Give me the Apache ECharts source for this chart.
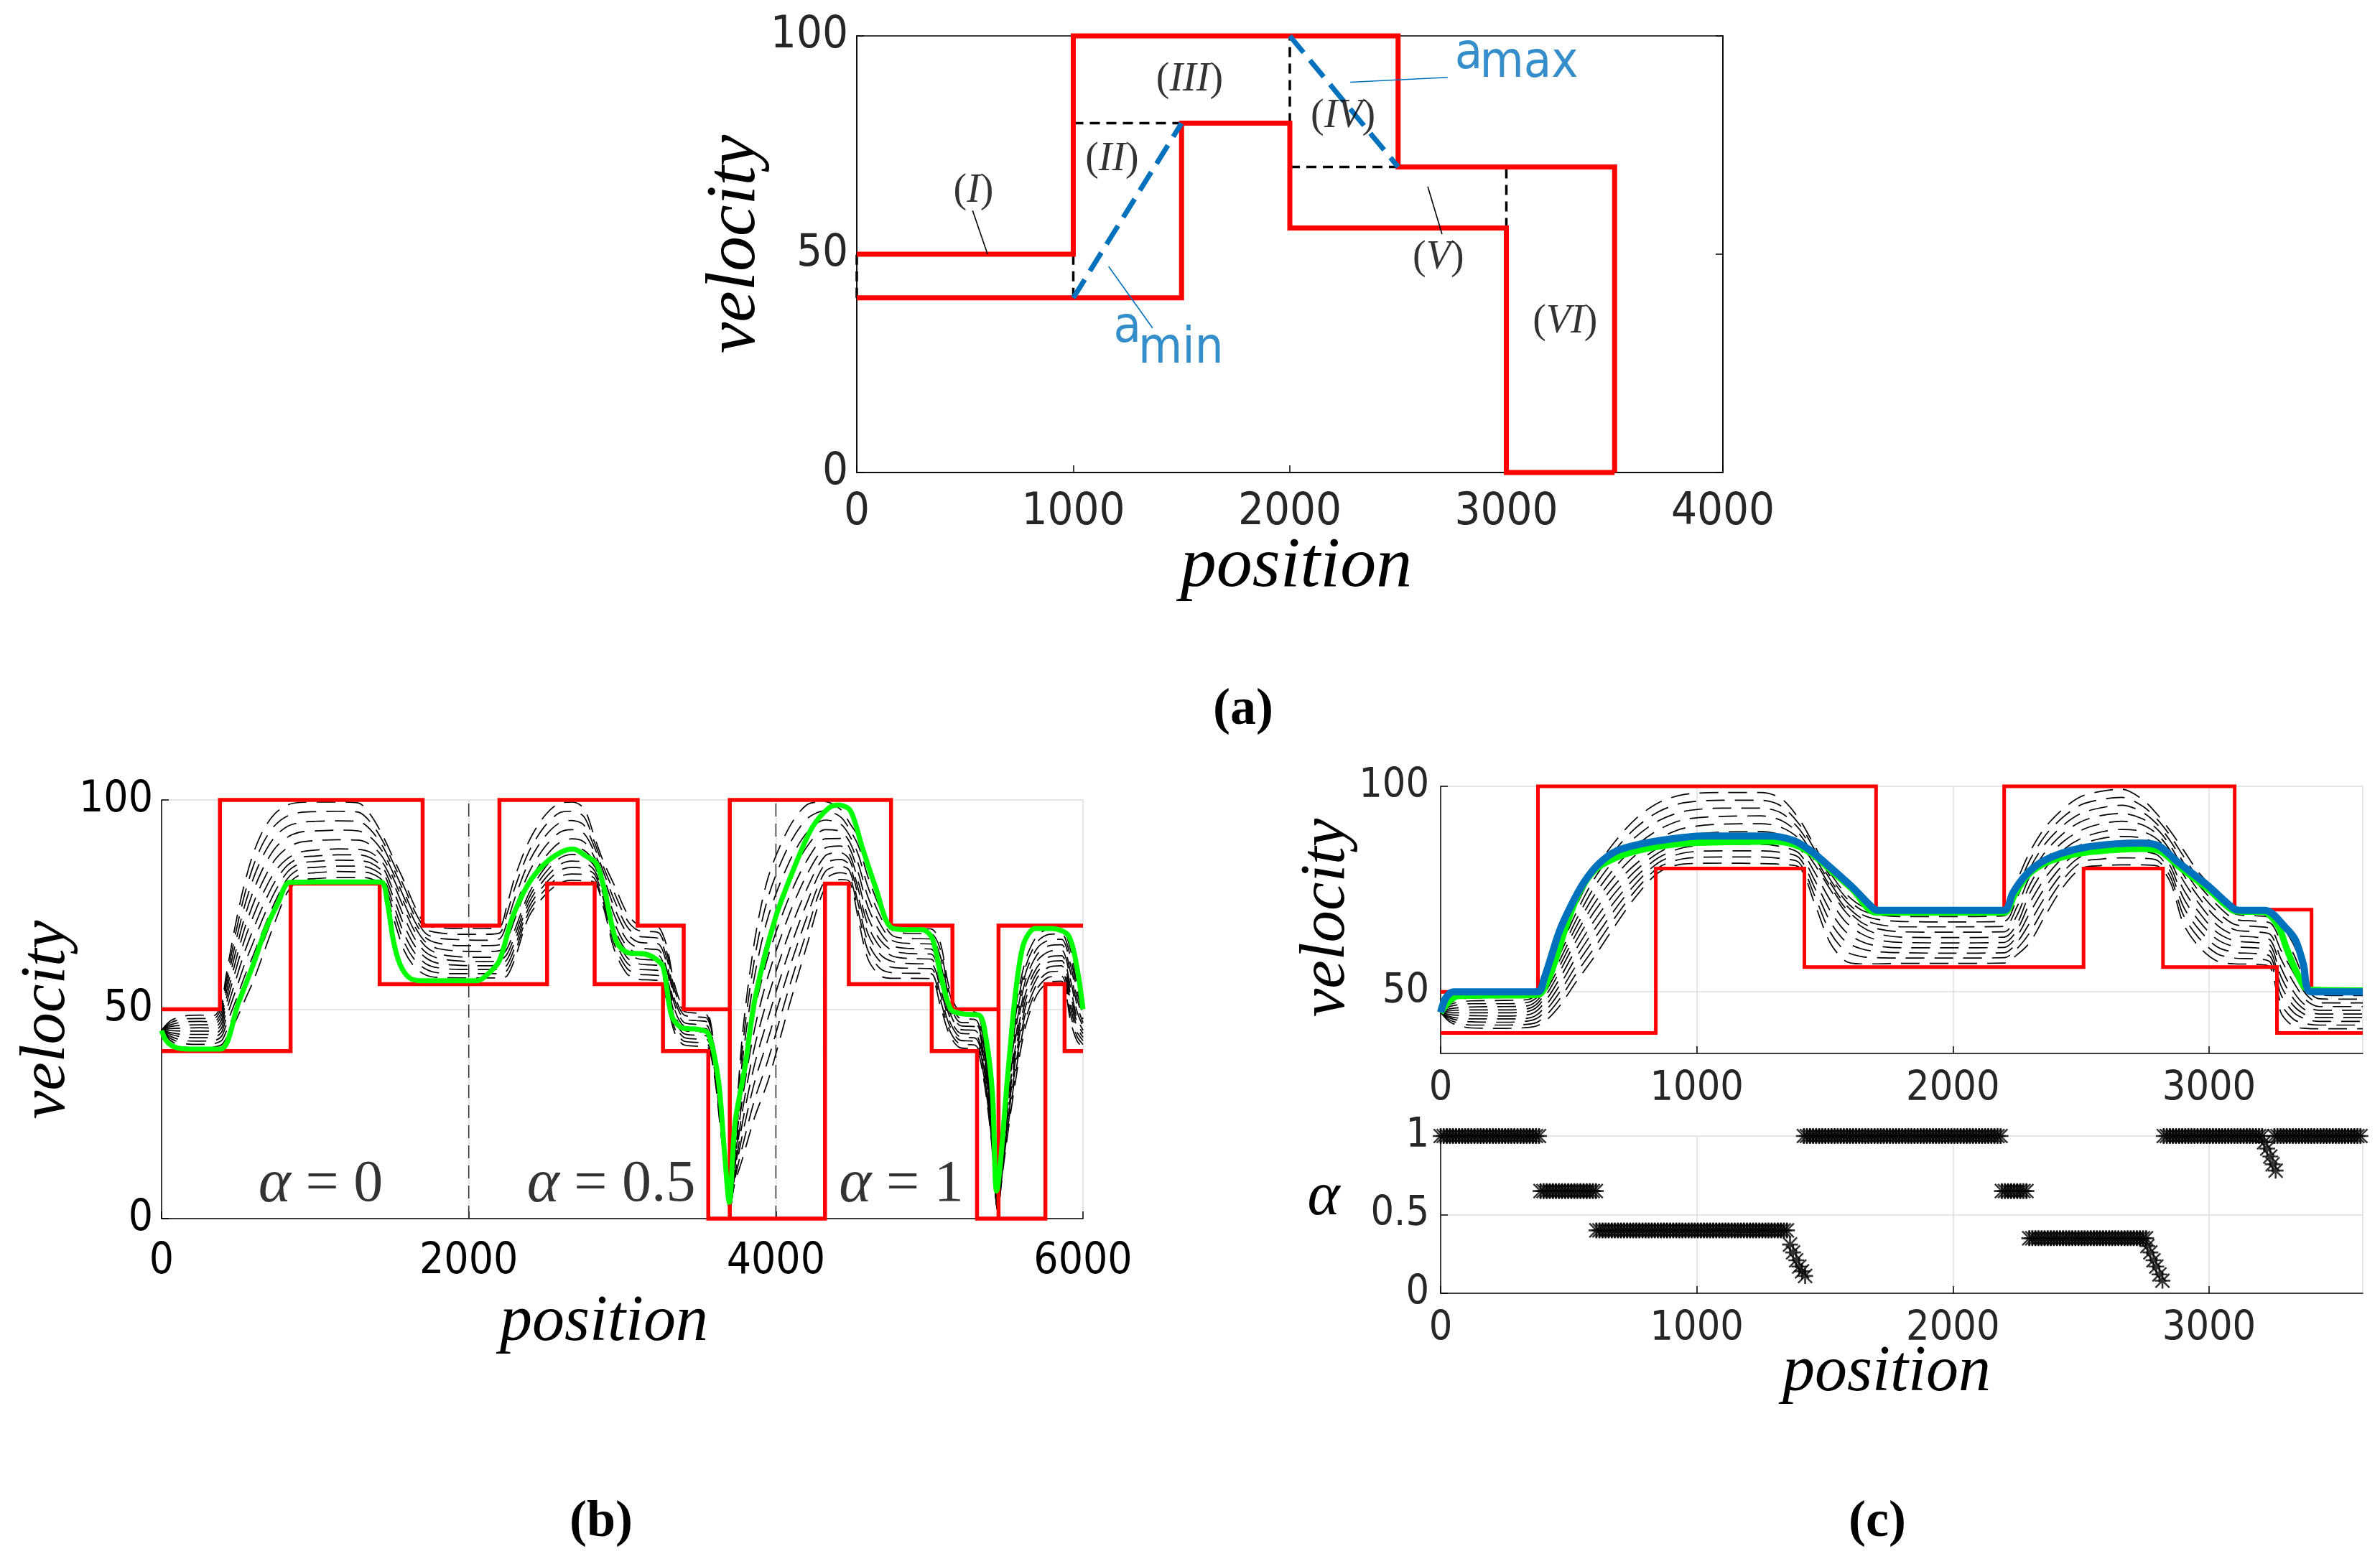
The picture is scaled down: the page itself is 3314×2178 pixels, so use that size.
<!DOCTYPE html>
<html><head><meta charset="utf-8">
<script src="https://cdn.jsdelivr.net/npm/echarts@6/dist/echarts.min.js"></script>
<style>html,body{margin:0;padding:0;background:#fff;}#c{width:3314px;height:2178px;}</style>
</head><body><div id="c"></div>
<script>
// ---------- Panel (a) ----------
const aUpper = [[0,50],[1000,50],[1000,100],[2500,100],[2500,70],[3500,70],[3500,0]];
const aLower = [[0,40],[1500,40],[1500,80],[2000,80],[2000,56],[3000,56],[3000,0],[3500,0]];
const aGuides = [[[0,40],[0,50]],[[1000,40],[1000,50]],[[1000,80],[1500,80]],[[2000,80],[2000,100]],[[2000,70],[2500,70]],[[3000,56],[3000,70]]];
const aMinLine = [[1000,40],[1500,80]];
const aMaxLine = [[2000,100],[2500,70]];
const aLeaders = [[[535,60],[604,50]],[[2637,65.5],[2703,54.6]]];
const aBlueLeaders = [[[2279,89.4],[2729,90.5]],[[1163,47.2],[1366,33.1]]];
const aRegions = [[539,64.5,'I'],[1179,71.6,'II'],[1537,90,'III'],[2246,81.5,'IV'],[2686,49.2,'V'],[3271,34.5,'VI']];
const aAccelText = [[2762,95.6,'a'],[2877,93.6,'max'],[1186,33,'a'],[1300,28.2,'min']];

// ---------- Panel (b) ----------
const bUpper = [[0,50],[380,50],[380,100],[1700,100],[1700,70],[2200,70],[2200,100],[3100,100],[3100,70],[3400,70],[3400,50],[3700,50],[3700,0],[3700,100],[4750,100],[4750,70],[5150,70],[5150,50],[5450,50],[5450,0],[5450,70],[6000,70]];
const bLower = [[0,40],[840,40],[840,80],[1420,80],[1420,56],[2510,56],[2510,80],[2820,80],[2820,56],[3265,56],[3265,40],[3560,40],[3560,0],[4320,0],[4320,80],[4475,80],[4475,56],[5015,56],[5015,40],[5310,40],[5310,0],[5755,0],[5755,56],[5880,56],[5880,40],[6000,40]];
const bGreen = [[0,44.9],[30,42.5],[90,40.9],[175,40.5],[384,40.5],[500,51.5],[600,61],[676,69],[760,75.5],[832,80.3],[1000,80.4],[1427,80.4],[1469,75.7],[1510,66.3],[1552,60.8],[1614,57.5],[1697,56.8],[2053,56.8],[2115,58.1],[2198,61.5],[2282,71.7],[2386,79.8],[2490,84.6],[2600,87.5],[2680,88.3],[2763,86.6],[2830,84.9],[2885,78.4],[2961,66.2],[3037,63.5],[3146,63.2],[3211,62.2],[3266,60.1],[3320,48.6],[3386,45.6],[3495,45.2],[3560,44.2],[3626,33],[3665,16],[3697,3.9],[3734,22.8],[3800,36.4],[3865,52.7],[3996,71.7],[4127,84.5],[4236,93.4],[4345,98.1],[4410,98.8],[4486,97.4],[4563,88.6],[4650,79.1],[4748,69.6],[4868,69],[4955,69],[5019,66.9],[5074,58.1],[5139,50],[5215,48.9],[5324,48.6],[5368,43.2],[5411,29.6],[5437,6.6],[5515,36.4],[5559,53.4],[5613,65.6],[5689,69.3],[5798,69.3],[5905,67.6],[5960,60.1],[6000,50]];
const bSplitMarks = [2000, 4000];
const bAlphaText = [[1036,8,'0'],[2928,8,'0.5'],[4817,8,'1']];
const bDashX = [0,60,150,250,340,390,420,480,540,600,665,740,820,900,1000,1150,1280,1360,1440,1510,1580,1650,1720,1800,1950,2100,2200,2250,2300,2390,2490,2590,2670,2750,2820,2880,2950,3030,3100,3180,3240,3290,3340,3400,3480,3550,3600,3640,3670,3700,3730,3780,3860,3950,4080,4200,4320,4420,4480,4540,4600,4680,4760,4880,5010,5070,5130,5200,5300,5350,5400,5445,5480,5540,5620,5700,5780,5860,5920,5960,6000];
const bDash = [
[45,42.5,41.0,40.8,41.0,41.5,43,47,52,57,63.5,71,78,80.8,81.2,81.5,81.5,81.2,79.5,71.7,64,60,58.2,57.6,57.5,57.5,57.5,58,62,72,77,80.1,80.8,80.7,80.3,74,64,58.5,57.2,57,56.8,52,44.5,41.5,41.2,41.1,34,21,12,2,8,14,24,33,50,65,79,81,80.5,71,62,58,57.4,57.4,57.3,51,44,40.8,40.5,34,20,2,12,28,45,53.5,56.5,56.7,47,42.5,40.8],
[45,43.0,41.8,41.6,41.8,42.5,44.6,49.4,54.9,60.1,66.4,73.4,79.6,82.1,82.6,82.9,82.8,82.5,80.6,73.4,66,61.7,59.6,58.7,58.5,58.5,58.5,59.3,63.4,73.1,78.3,81.6,82.3,82.2,81.2,75,65.3,59.8,58.4,58.2,58,53.2,45.6,42.4,42.1,41.9,34.8,21.8,12.6,2,8.8,16.8,28.2,38,54.4,68.4,80.9,82.6,81.8,72.8,64,59.7,58.7,58.6,58.5,52.4,45.1,41.7,41.4,35,20.8,2,12.8,29.6,46.6,54.8,57.7,57.9,48.6,43.6,41.6],
[45,43.5,42.5,42.4,42.5,43.5,46.2,51.8,57.8,63.2,69.3,75.8,81.2,83.5,83.9,84.2,84.2,83.7,81.7,75.0,68,63.4,60.9,59.9,59.5,59.5,59.5,60.6,64.8,74.2,79.6,83.1,83.9,83.6,82.2,76,66.6,61.1,59.6,59.4,59.2,54.4,46.7,43.3,42.9,42.8,35.6,22.6,13.2,2,9.6,19.6,32.4,43,58.8,71.8,82.8,84.2,83.1,74.6,66,61.4,60.0,59.8,59.7,53.8,46.2,42.6,42.3,36,21.6,2,13.6,31.2,48.2,56.1,58.9,59.1,50.2,44.7,42.5],
[45,44.0,43.3,43.2,43.3,44.5,47.8,54.2,60.7,66.3,72.2,78.2,82.8,84.8,85.3,85.6,85.5,85.0,82.8,76.7,70,65.1,62.3,61.0,60.5,60.4,60.6,61.9,66.2,75.3,80.9,84.5,85.4,85.1,83.1,77,67.9,62.4,60.9,60.6,60.4,55.6,47.8,44.2,43.8,43.6,36.4,23.4,13.8,2,10.4,22.4,36.6,48,63.2,75.2,84.7,85.8,84.4,76.4,68,63.1,61.4,60.9,60.8,55.2,47.3,43.4,43.1,37,22.4,2,14.4,32.8,49.8,57.4,60.1,60.4,51.8,45.8,43.3],
[45,44.4,44.0,44.0,44.0,45.5,49.4,56.6,63.6,69.4,75.1,80.6,84.4,86.2,86.6,86.9,86.9,86.2,83.9,78.3,72,66.8,63.6,62.2,61.5,61.4,61.6,63.2,67.6,76.4,82.2,86.0,87.0,86.5,84.1,78,69.2,63.7,62.1,61.8,61.6,56.8,48.9,45.1,44.6,44.5,37.2,24.2,14.4,2,11.2,25.2,40.8,53,67.6,78.6,86.6,87.4,85.7,78.2,70,64.8,62.7,62.1,62.0,56.6,48.4,44.3,44.0,38,23.2,2,15.2,34.4,51.4,58.7,61.3,61.6,53.4,46.9,44.2],
[45,44.9,44.8,44.8,44.8,46.5,51,59,66.5,72.5,78,83,86,87.5,88,88.3,88.2,87.5,85,80,74,68.5,65,63.3,62.5,62.4,62.6,64.5,69,77.5,83.5,87.5,88.5,88,85,79,70.5,65,63.3,63,62.8,58,50,46,45.5,45.3,38,25,15,2,12,28,45,58,72,82,88.5,89,87,80,72,66.5,64,63.3,63.2,58,49.5,45.2,44.9,39,24,2,16,36,53,60,62.5,62.8,55,48,45],
[45,45.4,45.5,45.6,45.5,47.5,52.4,61.2,69.2,75.5,81,85.8,88.6,89.9,90.3,90.5,90.4,89.3,86.3,81.2,75.3,69.7,66.0,64.5,63.9,63.8,64.0,66.6,71.5,80,86,89.8,90.7,90,86.2,80.2,72.3,66.6,64.7,64.4,64.1,59.4,51.2,46.9,46.4,46.2,38.6,26,15.6,2,13,31,49.2,62.7,76.2,85.4,90.7,90.8,88.5,82.2,74.4,68.4,65.2,64.5,64.4,59.6,50.6,46.1,45.8,40,24.8,2,17.2,37.8,54.6,61.5,63.8,64.1,56.8,49.6,45.9],
[45,45.9,46.2,46.3,46.3,48.5,53.8,63.4,71.9,78.5,84,88.5,91.1,92.3,92.6,92.8,92.6,91.1,87.6,82.4,76.6,70.9,67.1,65.8,65.2,65.2,65.4,68.7,74,82.5,88.5,92.2,92.9,92,87.4,81.4,74.1,68.2,66.1,65.8,65.5,60.8,52.4,47.8,47.3,47.0,39.2,27,16.2,2,14,34,53.4,67.4,80.4,88.7,92.9,92.5,90,84.4,76.8,70.3,66.4,65.7,65.6,61.2,51.7,46.9,46.7,41,25.6,2,18.4,39.6,56.2,63,65.2,65.4,58.6,51.2,46.8],
[45,46.3,47.0,47.1,47.0,49.5,55.2,65.6,74.6,81.5,87,91.3,93.7,94.6,94.9,95.0,94.9,92.9,88.9,83.6,77.9,72.1,68.1,67.0,66.6,66.5,66.8,70.8,76.5,85,91,94.5,95.1,94,88.6,82.6,75.9,69.8,67.5,67.2,66.8,62.2,53.6,48.7,48.2,47.9,39.8,28,16.8,2,15,37,57.6,72.1,84.6,92.1,95.2,94.3,91.5,86.6,79.2,72.2,67.6,66.9,66.8,62.8,52.8,47.8,47.5,42,26.4,2,19.6,41.4,57.8,64.5,66.5,66.7,60.4,52.8,47.7],
[45,46.8,47.7,47.8,47.8,50.5,56.6,67.8,77.3,84.5,90,94.0,96.2,97.0,97.2,97.3,97.1,94.7,90.2,84.8,79.2,73.3,69.2,68.3,67.9,67.9,68.2,72.9,79,87.5,93.5,96.9,97.3,96,89.8,83.8,77.7,71.4,68.9,68.6,68.2,63.6,54.8,49.6,49.1,48.7,40.4,29,17.4,2,16,40,61.8,76.8,88.8,95.4,97.4,96.0,93,88.8,81.6,74.1,68.8,68.1,68.0,64.4,53.9,48.6,48.4,43,27.2,2,20.8,43.2,59.4,66,67.9,68.0,62.2,54.4,48.6],
[45,47.3,48.4,48.6,48.5,51.5,58,70,80,87.5,93,96.8,98.8,99.4,99.5,99.5,99.3,96.5,91.5,86,80.5,74.5,70.2,69.5,69.3,69.3,69.6,75,81.5,90,96,99.2,99.5,98,91,85,79.5,73,70.3,70,69.5,65,56,50.5,50,49.6,41,30,18,2,17,43,66,81.5,93,98.8,99.6,97.8,94.5,91,84,76,70,69.3,69.2,66,55,49.5,49.3,44,28,2,22,45,61,67.5,69.2,69.3,64,56,49.5]
];

// ---------- Panel (c) ----------
const cUpper = [[0,50],[380,50],[380,100],[1700,100],[1700,70],[2200,70],[2200,100],[3100,100],[3100,70],[3400,70],[3400,50],[3600,50]];
const cLower = [[0,40],[840,40],[840,80],[1420,80],[1420,56],[2510,56],[2510,80],[2820,80],[2820,56],[3265,56],[3265,40],[3600,40]];
const cGreen = [[0,44.9],[30,47.5],[70,49],[380,49.3],[420,53],[450,58],[490,66],[540,74],[600,79.5],[680,82.5],[780,84.5],[900,85.8],[1000,86.3],[1300,86.6],[1380,85.8],[1450,83.5],[1530,79.2],[1610,74.8],[1700,69.3],[2200,69.3],[2240,73.5],[2290,78.2],[2350,81],[2430,82.8],[2530,84],[2640,84.6],[2740,84.8],[2810,84.2],[2880,80.6],[3000,74.8],[3090,69.9],[3130,69.5],[3210,69.5],[3270,66],[3300,61],[3340,55],[3390,50.5],[3600,50.3]];
const cBlue = [[0,45],[20,48.5],[50,50],[380,50],[404,53.2],[428,57.8],[464,64.8],[511,71.2],[558,76.5],[617,81.1],[688,84.3],[783,86],[901,87.2],[1019,87.9],[1279,87.9],[1374,86.9],[1445,84.3],[1528,79.9],[1610,75.3],[1693,70.1],[1716,69.8],[2199,69.8],[2234,74.1],[2281,78.2],[2341,81.4],[2424,83.7],[2519,85.2],[2638,86],[2733,86.2],[2804,85.5],[2875,81.7],[2994,75.9],[3095,70.3],[3125,69.8],[3219,69.8],[3302,65.4],[3338,62.5],[3368,56.7],[3397,50],[3600,50]];
const cDashX = [0,40,120,250,340,380,420,470,530,600,680,760,850,950,1100,1250,1330,1400,1460,1520,1580,1640,1700,1800,2000,2200,2250,2300,2360,2430,2500,2580,2660,2740,2800,2850,2900,2960,3030,3100,3180,3240,3280,3330,3380,3430,3520,3600];
const cDash = [
[45,42.5,41.2,41.1,41.3,41.8,43.5,47,52.5,58.5,66,73,79,81.1,81.3,81.2,81,80.3,71.5,62,57.5,56.8,56.8,56.9,56.9,57,59,62,68.5,75.5,80,80.7,80.9,80.9,80.6,76.5,66.5,61,57.5,56.8,56.7,55.8,45,41.6,41.1,41,41,41],
[45,43.0,41.9,41.9,42.1,42.7,44.8,48.7,54.5,60.7,68,74.6,80.2,82.4,82.8,82.8,82.4,81.4,73.4,64.6,59.9,58.6,58.3,58.2,58.2,58.3,60.5,64.4,70.8,77.3,81.5,82.3,82.6,82.5,81.9,77.8,68.6,63.1,59.3,58.2,58.0,57.1,47.2,43.3,42.2,41.9,41.9,41.9],
[45,43.5,42.7,42.6,42.9,43.7,46.1,50.4,56.5,62.9,70,76.2,81.4,83.8,84.3,84.3,83.9,82.6,75.3,67.2,62.3,60.5,59.8,59.5,59.4,59.5,62,66.8,73.1,79.1,82.9,84.0,84.3,84.1,83.2,79.1,70.7,65.2,61.0,59.6,59.3,58.5,49.4,45.0,43.3,42.8,42.8,42.8],
[45,43.9,43.4,43.4,43.6,44.6,47.4,52.1,58.5,65.1,72,77.8,82.6,85.1,85.9,85.9,85.3,83.7,77.2,69.8,64.7,62.3,61.2,60.7,60.7,60.8,63.5,69.2,75.4,80.9,84.4,85.6,86.1,85.8,84.4,80.4,72.8,67.3,62.8,61,60.7,59.8,51.6,46.6,44.3,43.7,43.7,43.7],
[45,44.4,44.2,44.1,44.4,45.6,48.7,53.8,60.5,67.3,74,79.4,83.8,86.5,87.4,87.4,86.8,84.9,79.1,72.4,67.1,64.2,62.7,62.0,61.9,62.0,65,71.6,77.7,82.7,85.8,87.3,87.8,87.4,85.7,81.7,74.9,69.4,64.5,62.4,62.0,61.2,53.8,48.3,45.4,44.6,44.6,44.6],
[45,44.9,44.9,44.9,45.2,46.5,50,55.5,62.5,69.5,76,81,85,87.8,88.9,89,88.2,86,81,75,69.5,66,64.2,63.3,63.2,63.3,66.5,74,80,84.5,87.3,88.9,89.5,89,87,83,77,71.5,66.3,63.8,63.3,62.5,56,50,46.5,45.5,45.5,45.5],
[45,45.4,45.6,45.6,45.9,47.3,51.1,56.9,64.2,71.5,78.1,83.2,87.2,89.8,90.8,90.9,90.0,87.2,81.9,75.8,70.4,67,65.4,64.6,64.5,64.6,68.6,76,82,86.5,89.3,90.9,91.5,90.6,88.2,84.2,78.5,73,67.9,65.1,64.6,63.9,58.1,52.3,47.9,46.4,46.4,46.4],
[45,45.9,46.3,46.4,46.6,48.1,52.2,58.3,65.9,73.5,80.2,85.4,89.4,91.9,92.7,92.8,91.7,88.4,82.8,76.6,71.3,68,66.5,65.8,65.8,65.9,70.7,78,84,88.5,91.4,92.9,93.4,92.1,89.4,85.4,80,74.5,69.6,66.4,65.9,65.3,60.2,54.6,49.3,47.3,47.3,47.3],
[45,46.5,47.1,47.1,47.4,48.9,53.3,59.7,67.6,75.5,82.3,87.6,91.6,93.9,94.7,94.7,93.5,89.6,83.7,77.4,72.2,69,67.7,67.1,67.0,67.2,72.8,80,86,90.5,93.4,94.8,95.4,93.7,90.6,86.6,81.5,76,71.2,67.7,67.2,66.7,62.3,56.9,50.7,48.3,48.2,48.2],
[45,47.0,47.8,47.9,48.1,49.7,54.4,61.1,69.3,77.5,84.4,89.8,93.8,96.0,96.6,96.6,95.2,90.8,84.6,78.2,73.1,70,68.8,68.3,68.3,68.5,74.9,82,88,92.5,95.5,96.8,97.3,95.2,91.8,87.8,83,77.5,72.9,69,68.5,68.1,64.4,59.2,52.1,49.2,49.1,49.1],
[45,47.5,48.5,48.6,48.8,50.5,55.5,62.5,71,79.5,86.5,92,96,98,98.5,98.5,97,92,85.5,79,74,71,70,69.6,69.6,69.8,77,84,90,94.5,97.5,98.8,99.3,96.8,93,89,84.5,79,74.5,70.3,69.8,69.5,66.5,61.5,53.5,50.1,50,50]
];
const alphaRuns = [[0,390,1],[390,608,0.65],[608,1352,0.4],[1418,2191,1],[2191,2298,0.65],[2298,2754,0.35],[2823,3215,1],[3255,3600,1]];
const alphaStep = 12;
const alphaDrops = [[1364,0.31],[1376,0.26],[1388,0.21],[1400,0.17],[1411,0.14],[1423,0.11],[2759,0.3],[2771,0.26],[2783,0.21],[2794,0.17],[2806,0.12],[2818,0.08],[3215,0.96],[3227,0.92],[3239,0.87],[3248,0.82],[3260,0.78]];

// ---------- ticks ----------
const aXTicks = 1000, aYTicks = 50, bXTicks = 2000, bYTicks = 50, cXTicks = 1000;
const cVelTicks = [50, 100];
const cAlphaTicks = 0.5;

// ---------- fonts ----------
function hasFont(name) {
  const ctx = document.createElement('canvas').getContext('2d');
  ctx.font = '72px monospace';
  const w0 = ctx.measureText('1000 abcxyz').width;
  ctx.font = '72px "' + name + '", monospace';
  return Math.abs(ctx.measureText('1000 abcxyz').width - w0) > 0.5;
}
const hasNarrow = hasFont('Liberation Sans Narrow');
const narrow = hasNarrow ? "'Liberation Sans Narrow',sans-serif" : "'DejaVu Sans Condensed','DejaVu Sans',sans-serif";
const fs = hasNarrow ? {a:70, b:66, c:62, acc:76} : {a:63, b:60, c:57, acc:70};
const serif = "'Liberation Serif','DejaVu Serif',serif";

// ---------- build ----------
const axisMap = [[0,0],[1,2],[2,3],[3,4]];
function line(g, data, color, width, type, z, smooth) {
  return {type:'line', xAxisIndex:axisMap[g][0], yAxisIndex:axisMap[g][1], data:data,
    symbol:'none', showSymbol:false, clip:false, silent:true, animation:false, smooth:smooth||false,
    lineStyle:{color:color, width:width, type:type||'solid', cap:'butt', join:'miter'}, z:z||2};
}
const fmt = v => String(v);
function xAx(g, min, max, interval, size, color, margin, extra) {
  return Object.assign({gridIndex:g, type:'value', min:min, max:max, interval:interval,
    axisLine:{show:true, onZero:false, lineStyle:{color:'#000', width:1.5}},
    axisTick:{show:true, inside:true, length:10, lineStyle:{color:'#000', width:1.5}},
    axisLabel:{show:true, fontFamily:narrow, fontSize:size, color:color, margin:margin, formatter:fmt},
    splitLine:{show:false}}, extra||{});
}
const gridLine = {show:true, lineStyle:{color:'#dedede', width:1.5}};

const series = [];
// (a)
aGuides.forEach(s => series.push(line(0, s, '#000', 3.5, [14,9], 2)));
series.push(line(0, aUpper, '#ff0000', 7, 'solid', 3));
series.push(line(0, aLower, '#ff0000', 7, 'solid', 3));
series.push(line(0, aMinLine, '#0072BD', 7, [30,14], 4));
series.push(line(0, aMaxLine, '#0072BD', 7, [30,14], 4));
aLeaders.forEach(s => series.push(line(0, s, '#000', 1.6, 'solid', 4)));
aBlueLeaders.forEach(s => series.push(line(0, s, '#0072BD', 1.6, 'solid', 4)));
series.push({type:'scatter', xAxisIndex:0, yAxisIndex:0, symbolSize:0, silent:true, animation:false, z:6,
  data: aRegions.map(r => ({value:[r[0], r[1]], name:r[2]})),
  label:{show:true, position:'inside', formatter: p => '{p|(}{n|' + p.name + '}{p|)}',
    rich:{p:{fontFamily:serif, fontSize:56, color:'#000'}, n:{fontFamily:serif, fontStyle:'italic', fontSize:56, color:'#000'}}}});
series.push({type:'scatter', xAxisIndex:0, yAxisIndex:0, symbolSize:0, silent:true, animation:false, z:6,
  data: aAccelText.map(r => ({value:[r[0], r[1]], name:r[2]})),
  label:{show:true, position:'inside', align:'left', verticalAlign:'middle', formatter: p => p.name,
    fontFamily:narrow, fontSize:fs.acc, color:'#0072BD'}});
// (b)
bDash.forEach(row => series.push(line(1, bDashX.map((x,i) => [x, row[i]]), '#000', 1.7, [26,14], 2, 0.3)));
bSplitMarks.forEach(x => series.push(line(1, [[x,0],[x,100]], '#333', 1.5, [18,10], 2)));
series.push(line(1, bUpper, '#ff0000', 5.5, 'solid', 3));
series.push(line(1, bLower, '#ff0000', 5.5, 'solid', 3));
series.push(line(1, bGreen, '#00ff00', 7, 'solid', 4, 0.3));
series.push({type:'scatter', xAxisIndex:1, yAxisIndex:2, symbolSize:0, silent:true, animation:false, z:6,
  data: bAlphaText.map(r => ({value:[r[0], r[1]], name:r[2]})),
  label:{show:true, position:'inside', formatter: p => '{a|\u03b1} = ' + p.name,
    fontFamily:serif, fontSize:82, color:'#000', rich:{a:{fontFamily:serif, fontStyle:'italic', fontSize:86, color:'#000'}}}});
// (c) top
cDash.forEach(row => series.push(line(2, cDashX.map((x,i) => [x, row[i]]), '#000', 1.7, [26,14], 2, 0.3)));
series.push(line(2, cUpper, '#ff0000', 5, 'solid', 3));
series.push(line(2, cLower, '#ff0000', 5, 'solid', 3));
series.push(line(2, cGreen, '#00ff00', 9, 'solid', 4, 0.3));
series.push(line(2, cBlue, '#0072BD', 10, 'solid', 5, 0.3));
// (c) bottom
const alphaPts = [];
alphaRuns.forEach(r => { for (let x = r[0]; x <= r[1]; x += alphaStep) alphaPts.push([x, r[2]]); });
alphaDrops.forEach(p => alphaPts.push(p));
const star = 'path://M44,0L56,0L56,100L44,100Z M0,44L100,44L100,56L0,56Z M10,2L98,90L90,98L2,10Z M90,2L98,10L10,98L2,90Z';
series.push({type:'scatter', xAxisIndex:3, yAxisIndex:4, data:alphaPts, symbol:star, symbolSize:22, clip:false,
  silent:true, animation:false, itemStyle:{color:'#000'}, z:4});

const cLab = {show:true, fontFamily:narrow, fontSize:fs.c, color:'#262626', margin:22, formatter:fmt, showMaxLabel:false};
const option = {
  backgroundColor:'#fff', animation:false,
  grid:[
    {left:1193, top:50, width:1206, height:608, show:true, borderColor:'#000', borderWidth:1.5, backgroundColor:'transparent', outerBoundsMode:'none'},
    {left:225, top:1114, width:1283, height:583, outerBoundsMode:'none'},
    {left:2006, top:1095, width:1284, height:372, outerBoundsMode:'none'},
    {left:2006, top:1582, width:1284, height:219, outerBoundsMode:'none'}
  ],
  xAxis:[
    xAx(0, 0, 4000, aXTicks, fs.a, '#262626', 24),
    xAx(1, 0, 6000, bXTicks, fs.b, '#000', 30, {splitLine:gridLine}),
    xAx(2, 0, 3600, cXTicks, fs.c, '#262626', 24, {splitLine:gridLine, axisLabel:cLab}),
    xAx(3, 0, 3600, cXTicks, fs.c, '#262626', 24, {splitLine:gridLine, axisLabel:cLab})
  ],
  yAxis:[
    xAx(0, 0, 100, aYTicks, fs.a, '#262626', 12),
    xAx(0, 0, 100, aYTicks, fs.a, '#262626', 12, {position:'right', axisLabel:{show:false}}),
    xAx(1, 0, 100, bYTicks, fs.b, '#000', 12, {splitLine:gridLine}),
    {gridIndex:2, type:'value', min:35, max:100,
      axisLine:{show:true, onZero:false, lineStyle:{color:'#000', width:1.5}},
      axisTick:{show:true, inside:true, length:10, customValues:cVelTicks, lineStyle:{color:'#000', width:1.5}},
      axisLabel:{show:true, fontFamily:narrow, fontSize:fs.c, color:'#262626', margin:16, formatter:fmt, customValues:cVelTicks},
      splitLine:gridLine},
    xAx(3, 0, 1, cAlphaTicks, fs.c, '#262626', 16, {splitLine:gridLine})
  ],
  graphic:[
    {type:'text', x:1024, y:340, rotation:Math.PI/2, style:{text:'velocity', fontFamily:serif, fontStyle:'italic', fontSize:98, fill:'#000', align:'center', verticalAlign:'middle'}},
    {type:'text', x:1805, y:790, style:{text:'position', fontFamily:serif, fontStyle:'italic', fontSize:100, fill:'#000', align:'center', verticalAlign:'middle'}},
    {type:'text', x:66, y:1420, rotation:Math.PI/2, style:{text:'velocity', fontFamily:serif, fontStyle:'italic', fontSize:89, fill:'#000', align:'center', verticalAlign:'middle'}},
    {type:'text', x:841, y:1842, style:{text:'position', fontFamily:serif, fontStyle:'italic', fontSize:90, fill:'#000', align:'center', verticalAlign:'middle'}},
    {type:'text', x:1848, y:1278, rotation:Math.PI/2, style:{text:'velocity', fontFamily:serif, fontStyle:'italic', fontSize:89, fill:'#000', align:'center', verticalAlign:'middle'}},
    {type:'text', x:2627, y:1912, style:{text:'position', fontFamily:serif, fontStyle:'italic', fontSize:90, fill:'#000', align:'center', verticalAlign:'middle'}},
    {type:'text', x:1843, y:1668, style:{text:'\u03b1', fontFamily:serif, fontStyle:'italic', fontSize:86, fill:'#000', align:'center', verticalAlign:'middle'}},
    {type:'text', x:1731, y:989, style:{text:'(a)', fontFamily:serif, fontWeight:'bold', fontSize:72, fill:'#000', align:'center', verticalAlign:'middle'}},
    {type:'text', x:837, y:2120, style:{text:'(b)', fontFamily:serif, fontWeight:'bold', fontSize:72, fill:'#000', align:'center', verticalAlign:'middle'}},
    {type:'text', x:2614, y:2120, style:{text:'(c)', fontFamily:serif, fontWeight:'bold', fontSize:72, fill:'#000', align:'center', verticalAlign:'middle'}}
  ],
  series:series
};
const chart = echarts.init(document.getElementById('c'), null, {renderer:'canvas', width:3314, height:2178, devicePixelRatio:1});
chart.setOption(option);
</script></body></html>
